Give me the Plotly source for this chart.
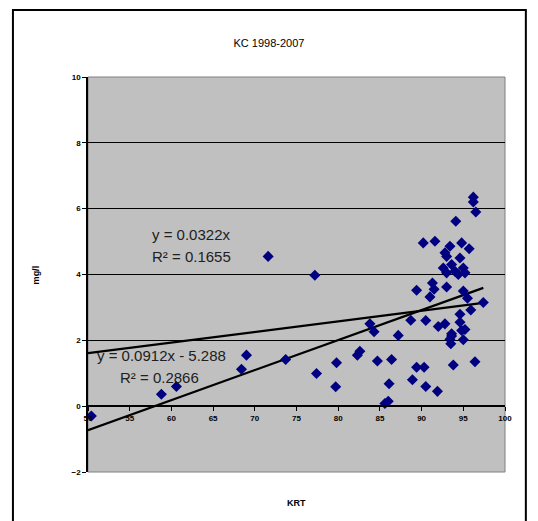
import numpy as np
import plotly.graph_objects as go

title_text = "KC 1998-2007"
x_title = "KRT"
y_title = "mg/l"

krt = [50.4, 58.8, 60.6, 68.4, 69.0, 71.6, 73.7, 77.2, 77.4, 79.7, 79.8, 82.3, 82.6,
       83.8, 84.3, 84.7, 85.6, 86.0, 86.1, 86.4, 87.2, 88.7, 88.9, 89.4, 89.4, 90.3,
       90.5, 90.5, 91.0, 91.3, 91.5, 91.9, 92.0, 92.8, 93.0, 93.4, 93.6, 93.8, 94.6,
       94.8, 95.0, 95.0, 95.5, 95.9, 96.4, 97.4, 90.2, 91.6, 94.1, 96.2, 96.2, 96.5,
       93.4, 94.8, 95.7, 92.8, 94.6, 93.0, 92.6, 93.6, 95.0, 93.0, 94.4, 94.0, 95.2,
       94.6, 93.6, 95.2, 93.5]
mgl = [-0.3, 0.36, 0.6, 1.12, 1.55, 4.55, 1.42, 3.98, 0.99, 0.59, 1.32, 1.55, 1.67,
       2.5, 2.26, 1.37, 0.08, 0.15, 0.68, 1.42, 2.15, 2.61, 0.8, 3.52, 1.18, 1.18,
       0.6, 2.6, 3.32, 3.74, 3.55, 0.45, 2.42, 2.5, 3.62, 2.03, 2.2, 1.25, 2.55,
       2.3, 3.5, 2.02, 3.28, 2.92, 1.35, 3.15, 4.96, 5.01, 5.62, 6.35, 6.2, 5.9,
       4.86, 4.96, 4.78, 4.66, 4.5, 4.55, 4.2, 4.3, 4.2, 4.05, 4.0, 4.1, 4.05,
       2.79, 2.13, 2.33, 1.9]

# trendlines: (slope, intercept)
trend_slopes = [0.0322, 0.0912]
trend_intercepts = [0.0, -5.288]
trend_labels = [["y = 0.0322x", "R² = 0.1655"], ["y = 0.0912x - 5.288", "R² = 0.2866"]]
label_pos = [[(57.4, 5.21), (57.4, 4.55)], [(50.8, 1.55), (53.6, 0.88)]]

x_ticks = [50, 55, 60, 65, 70, 75, 80, 85, 90, 95, 100]
y_ticks = [-2, 0, 2, 4, 6, 8, 10]

fig = go.Figure()
xmin, xmax = 50, max(krt)
for m, b in zip(trend_slopes, trend_intercepts):
    xs = np.array([xmin, xmax])
    fig.add_trace(go.Scatter(x=xs, y=m * xs + b, mode="lines",
                             line=dict(color="black", width=2.2), showlegend=False,
                             hoverinfo="skip"))
fig.add_trace(go.Scatter(x=krt, y=mgl, mode="markers",
                         marker=dict(symbol="diamond", size=8.5, color="#000080",
                                     line=dict(width=0)),
                         showlegend=False))

font = "Arial, Liberation Sans, sans-serif"
anns = []
for labs, poss in zip(trend_labels, label_pos):
    for t, (px, py) in zip(labs, poss):
        anns.append(dict(x=px, y=py, xref="x", yref="y", text=t, showarrow=False,
                         xanchor="left", yanchor="middle",
                         font=dict(family=font, size=15, color="#202020")))
anns.append(dict(x=0.5, y=-0.06, xref="paper", yref="paper", text="<b>" + x_title + "</b>",
                 showarrow=False, yanchor="top",
                 font=dict(family=font, size=9, color="black")))
anns.append(dict(x=-0.125, y=0.5, xref="paper", yref="paper", text="<b>" + y_title + "</b>",
                 showarrow=False, textangle=-90, xanchor="center",
                 font=dict(family=font, size=9, color="black")))

tfont = dict(family="Arial Black, Liberation Sans, sans-serif", size=8, color="black", weight="bold")

fig.update_layout(
    width=538, height=521,
    margin=dict(l=88, r=33, t=77, b=49),
    paper_bgcolor="white",
    plot_bgcolor="#C0C0C0",
    title=dict(text=title_text, xref="container", x=0.5, xanchor="center",
               yref="container", y=1 - 43 / 521, yanchor="middle",
               font=dict(family=font, size=11, color="black")),
    annotations=anns,
    xaxis=dict(range=[50, 100], tickvals=x_ticks, showgrid=False, zeroline=False,
               anchor="free", position=2 / 12, showline=True, linecolor="black",
               linewidth=1.5, ticks="outside", ticklen=4, tickcolor="black",
               tickfont=tfont),
    yaxis=dict(range=[-2, 10], tickvals=y_ticks, showgrid=True, gridcolor="black",
               gridwidth=1, zeroline=False, showline=True, linecolor="black",
               linewidth=1.5, ticks="outside", ticklen=4, tickcolor="black",
               tickfont=tfont),
    shapes=[
        dict(type="rect", xref="paper", yref="paper", x0=0, x1=1, y0=0, y1=1,
             line=dict(color="#808080", width=1), layer="below"),
        dict(type="rect", xref="paper", yref="paper", x0=-0.18, x1=1.05,
             y0=-0.14, y1=1.1696, line=dict(color="black", width=2)),
    ],
)

fig.write_html("out.html")
